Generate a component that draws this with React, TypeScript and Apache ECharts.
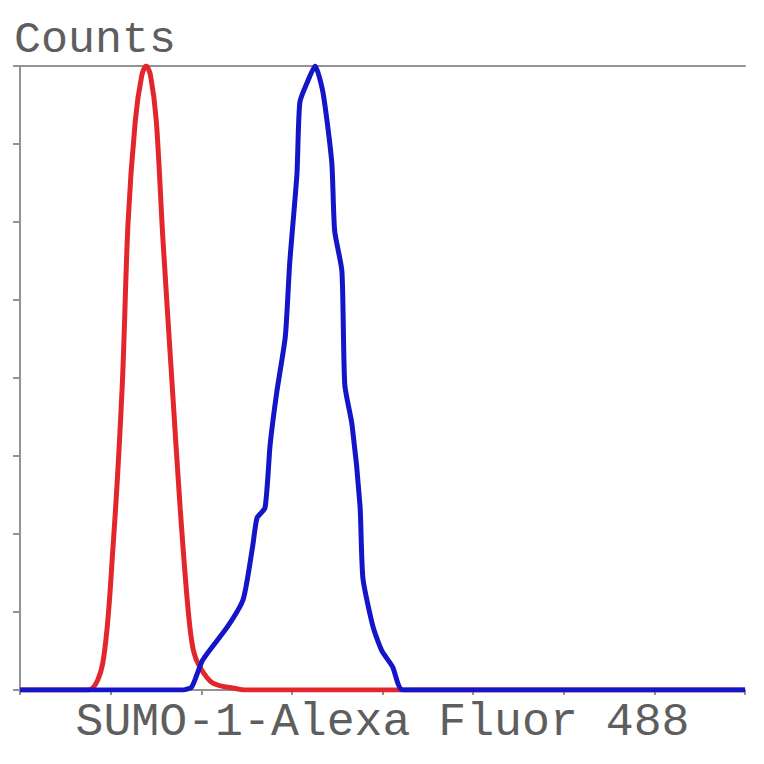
import React, { useEffect, useRef } from 'react'
import * as echarts from 'echarts'

// 荧光强度 (0-100 相对刻度)
const redX = [0, 9.4, 11.4, 12.8, 14.1, 14.9, 15.9, 16.8, 17.4, 18.0, 18.8, 19.7, 21.0, 22.1, 23.2, 23.9, 24.8, 26.6, 29.9, 31, 100]
const redY = [0, 0, 4.2, 22.4, 48.7, 74.8, 91.2, 98.5, 100, 98.5, 91.2, 72.5, 48.7, 29.0, 12.7, 6.4, 3.7, 1.1, 0.2, 0, 0]

const blueX = [0, 22.5, 23.7, 25.2, 28.6, 30.8, 32.1, 32.7, 33.8, 34.5, 35.4, 36.6, 37.2, 38.2, 38.6, 39.7, 40.7, 41.8, 43.0, 43.4, 44.4, 44.8, 45.8, 46.9, 47.3, 48.7, 49.9, 51.4, 52.8, 100]
const blueY = [0, 0, 0.5, 4.8, 10.1, 14.6, 23.1, 27.6, 29.2, 39.3, 47.6, 56.7, 68.4, 82.7, 94.2, 97.6, 100, 95.7, 84.6, 73.6, 67.1, 48.9, 42.5, 29.5, 17.9, 10.1, 6.3, 3.7, 0, 0]

const yName = 'Counts'
const xName = 'SUMO-1-Alexa Fluor 488'

const toPairs = (xs: number[], ys: number[]) => xs.map((x, i) => [x, ys[i]])

const App: React.FC = () => {
    const chartRef = useRef<HTMLDivElement | null>(null)

    useEffect(() => {
        if (!chartRef.current) return
        const chart = echarts.init(chartRef.current, null, { renderer: 'svg' })
        const axisGray = '#939393'
        const textGray = '#5e5e5e'

        chart.setOption({
            animation: false,
            backgroundColor: '#fff',
            title: {
                text: yName,
                left: 6,
                top: 10,
                padding: 0,
                textStyle: { fontFamily: 'Liberation Mono', fontSize: 45, fontWeight: 'normal', color: textGray },
            },
            grid: { left: 12, right: 11, top: 58, bottom: 66 },
            xAxis: [
                {
                    type: 'value',
                    min: 0,
                    max: 100,
                    interval: 12.5,
                    name: xName,
                    nameLocation: 'middle',
                    nameGap: 9,
                    nameTextStyle: { fontFamily: 'Liberation Mono', fontSize: 46.5, color: textGray },
                    axisLine: { lineStyle: { color: axisGray, width: 2 } },
                    axisTick: { show: true, inside: false, length: 5, lineStyle: { color: axisGray, width: 2 } },
                    axisLabel: { show: false },
                    splitLine: { show: false },
                },
                {
                    type: 'value',
                    position: 'top',
                    min: 0,
                    max: 100,
                    axisLine: { show: true, lineStyle: { color: axisGray, width: 2 } },
                    axisTick: { show: false },
                    axisLabel: { show: false },
                    splitLine: { show: false },
                },
            ],
            yAxis: {
                type: 'value',
                min: 0,
                max: 100,
                interval: 12.5,
                axisLine: { show: true, lineStyle: { color: axisGray, width: 2 } },
                axisTick: { show: true, inside: false, length: 7, lineStyle: { color: axisGray, width: 2 } },
                axisLabel: { show: false },
                splitLine: { show: false },
            },
            series: [
                {
                    type: 'line',
                    data: toPairs(redX, redY),
                    showSymbol: false,
                    smooth: 0.3,
                    clip: true,
                    lineStyle: { color: '#e3262b', width: 5 },
                },
                {
                    type: 'line',
                    data: toPairs(blueX, blueY),
                    showSymbol: false,
                    smooth: 0.2,
                    clip: true,
                    lineStyle: { color: '#1414c8', width: 5 },
                },
            ],
        })

        return () => {
            chart.dispose()
        }
    }, [])

    return <div ref={chartRef} style={{ width: 748, height: 748 }} />
}

export default App
